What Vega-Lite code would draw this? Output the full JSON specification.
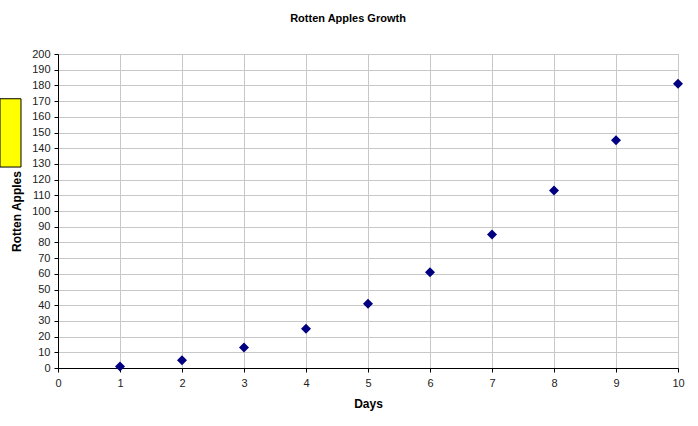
{
  "$schema": "https://vega.github.io/schema/vega-lite/v6.json",
  "width": 620,
  "height": 314,
  "autosize": {"type": "none"},
  "padding": {"left": 58, "top": 54, "right": 20, "bottom": 58},
  "background": "white",
  "title": {
    "text": "Rotten Apples Growth",
    "font": "Liberation Sans",
    "fontSize": 11,
    "fontWeight": "bold",
    "color": "black",
    "anchor": "middle",
    "offset": 24,
    "dx": -20
  },
  "config": {
    "view": {"stroke": "#a0a0a0", "strokeWidth": 1},
    "axis": {
      "labelFont": "Liberation Sans",
      "labelFontSize": 11,
      "labelColor": "#222222",
      "labelOverlap": false,
      "labelFlush": false,
      "labelBound": false,
      "titleFont": "Liberation Sans",
      "titleFontSize": 12,
      "titleFontWeight": "bold",
      "titleColor": "black",
      "gridColor": "#c8c8c8",
      "gridWidth": 1,
      "domainColor": "black",
      "domainWidth": 1,
      "tickColor": "black",
      "tickSize": 4
    }
  },
  "layer": [
    {
      "data": {"values": [
        {"x0": -0.935, "x1": -0.597, "y0": 171.5, "y1": 128}
      ]},
      "mark": {"type": "rect", "fill": "#ffff00", "stroke": "black", "strokeWidth": 1, "clip": false},
      "encoding": {
        "x": {"field": "x0", "type": "quantitative",
          "scale": {"domain": [0, 10], "nice": false},
          "axis": {"title": "Days", "format": "d", "values": [0,1,2,3,4,5,6,7,8,9,10], "labelPadding": 5, "titlePadding": 10}},
        "x2": {"field": "x1"},
        "y": {"field": "y0", "type": "quantitative",
          "scale": {"domain": [0, 200], "nice": false},
          "axis": {"title": "Rotten Apples", "format": "d", "values": [0,10,20,30,40,50,60,70,80,90,100,110,120,130,140,150,160,170,180,190,200], "labelPadding": 4, "titlePadding": 8}},
        "y2": {"field": "y1"}
      }
    },
    {
      "data": {"values": [
        {"day": 1, "apples": 1},
        {"day": 2, "apples": 5},
        {"day": 3, "apples": 13},
        {"day": 4, "apples": 25},
        {"day": 5, "apples": 41},
        {"day": 6, "apples": 61},
        {"day": 7, "apples": 85},
        {"day": 8, "apples": 113},
        {"day": 9, "apples": 145},
        {"day": 10, "apples": 181}
      ]},
      "mark": {"type": "point", "shape": "diamond", "filled": true, "color": "#000080", "size": 100, "opacity": 1, "clip": false},
      "encoding": {
        "x": {
          "field": "day", "type": "quantitative",
          "scale": {"domain": [0, 10], "nice": false},
          "axis": {"title": "Days", "format": "d", "values": [0,1,2,3,4,5,6,7,8,9,10], "labelPadding": 5, "titlePadding": 10}
        },
        "y": {
          "field": "apples", "type": "quantitative",
          "scale": {"domain": [0, 200], "nice": false},
          "axis": {"title": "Rotten Apples", "format": "d", "values": [0,10,20,30,40,50,60,70,80,90,100,110,120,130,140,150,160,170,180,190,200], "labelPadding": 4, "titlePadding": 8}
        }
      }
    }
  ]
}
